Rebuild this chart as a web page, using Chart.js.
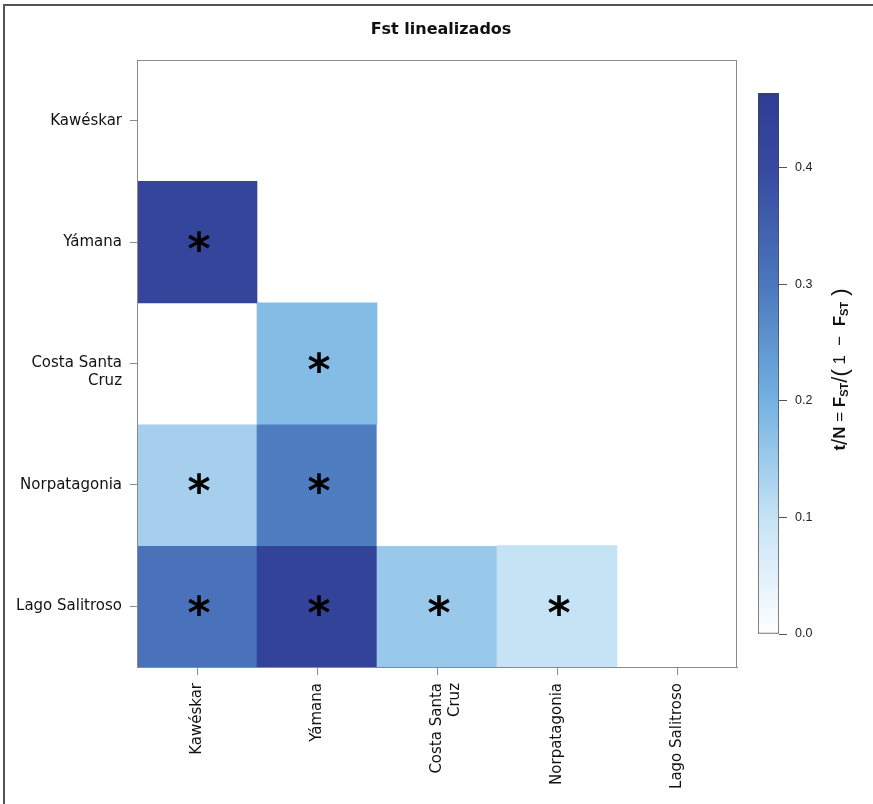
<!DOCTYPE html>
<html lang="es">

<head>
    <meta charset="UTF-8">
    <title>Fst linealizados</title>
    <style>
        body { margin: 0; background: #fff; }
        #wrap { position: relative; width: 873px; height: 804px; overflow: hidden; }
        #marco { position: absolute; left: 3px; top: 4px; width: 900px; height: 900px;
                 border-left: 2px solid #555; border-top: 2px solid #555; pointer-events: none; }
        #myChart { position: absolute; left: 0; top: 0; }
        #barra { position: absolute; left: 740px; top: 0; }
    </style>
</head>

<body>

    <div id="wrap">
        <div id="marco"></div>
        <canvas id="myChart" width="873" height="804"></canvas>
        <canvas id="barra" width="133" height="804"></canvas>
    </div>

    <script src="https://cdn.jsdelivr.net/npm/chart.js"></script>

    <script>
        const poblaciones = ["Kawéskar", "Yámana", "Costa Santa Cruz", "Norpatagonia", "Lago Salitroso"];

        // Fst linealizado por fila (triangulo inferior), null = sin celda
        const filaKaweskar = [null, null, null, null, null];
        const filaYamana = [0.42, null, null, null, null];
        const filaCostaSantaCruz = [0.0, 0.18, null, null, null];
        const filaNorpatagonia = [0.14, 0.29, 0.0, null, null];
        const filaLagoSalitroso = [0.31, 0.43, 0.155, 0.10, null];

        // significancia (*)
        const sigKaweskar = [0, 0, 0, 0, 0];
        const sigYamana = [1, 0, 0, 0, 0];
        const sigCostaSantaCruz = [0, 1, 0, 0, 0];
        const sigNorpatagonia = [1, 1, 0, 0, 0];
        const sigLagoSalitroso = [1, 1, 1, 1, 0];

        // escala de color
        const escalaValores = [0, 0.1, 0.2, 0.3, 0.4, 0.464];
        const escalaColores = ["#ffffff", "#c6e2f5", "#73b2e1", "#4b77bd", "#37499f", "#2e3d93"];
        const escalaTicks = [0, 0.1, 0.2, 0.3, 0.4];

        const valores = [filaKaweskar, filaYamana, filaCostaSantaCruz, filaNorpatagonia, filaLagoSalitroso];
        const significativos = [sigKaweskar, sigYamana, sigCostaSantaCruz, sigNorpatagonia, sigLagoSalitroso];
        const fuente = "'DejaVu Sans', sans-serif";
        const arial = "'Liberation Sans', Arial, sans-serif";

        function hexRgb(h) {
            return [parseInt(h.slice(1, 3), 16), parseInt(h.slice(3, 5), 16), parseInt(h.slice(5, 7), 16)];
        }

        function colorPara(v) {
            if (v == null) return "rgba(0,0,0,0)";
            for (let k = 1; k < escalaValores.length; k++) {
                if (v <= escalaValores[k] || k === escalaValores.length - 1) {
                    const t = Math.max(0, Math.min(1, (v - escalaValores[k - 1]) / (escalaValores[k] - escalaValores[k - 1])));
                    const a = hexRgb(escalaColores[k - 1]), b = hexRgb(escalaColores[k]);
                    const c = a.map((x, i) => Math.round(x + (b[i] - x) * t));
                    return "rgb(" + c.join(",") + ")";
                }
            }
        }

        function etiqueta(nombre) {
            return nombre === "Costa Santa Cruz" ? ["Costa Santa", "Cruz"] : nombre;
        }

        // en el eje y la primera linea va a la altura del tick
        function etiquetaY(nombre) {
            return nombre === "Costa Santa Cruz" ? ["", "Costa Santa", "Cruz"] : nombre;
        }

        const datasets = valores.map((fila, i) => ({
            data: fila.map(v => v == null ? null : [i - 0.5, i + 0.5]),
            backgroundColor: ctx => colorPara(valores[ctx.datasetIndex][ctx.dataIndex]),
            borderWidth: 0,
            barPercentage: 1,
            categoryPercentage: 1,
            grouped: false
        }));

        const titulo = {
            id: "titulo",
            afterDraw(chart) {
                const ctx = chart.ctx;
                ctx.save();
                ctx.fillStyle = "#111";
                ctx.font = "bold 16px " + fuente;
                ctx.textAlign = "center";
                ctx.textBaseline = "middle";
                ctx.fillText("Fst linealizados", 441, 30);
                ctx.restore();
            }
        };

        const asteriscos = {
            id: "asteriscos",
            afterDatasetsDraw(chart) {
                const ctx = chart.ctx;
                const xs = chart.scales.x, ys = chart.scales.y;
                ctx.save();
                ctx.fillStyle = "#000";
                ctx.font = "bold 44px " + fuente;
                ctx.textAlign = "center";
                ctx.textBaseline = "alphabetic";
                const m = ctx.measureText("*");
                const dy = (m.actualBoundingBoxAscent - m.actualBoundingBoxDescent) / 2;
                significativos.forEach((fila, i) => {
                    fila.forEach((s, j) => {
                        if (s) ctx.fillText("*", xs.getPixelForValue(j) + 2, ys.getPixelForValue(i) + dy - 1);
                    });
                });
                ctx.restore();
            }
        };

        const marcoPlot = {
            id: "marcoPlot",
            afterDraw(chart) {
                const a = chart.chartArea, ctx = chart.ctx;
                ctx.save();
                ctx.strokeStyle = "#8a8a8a";
                ctx.lineWidth = 1;
                ctx.strokeRect(a.left + 0.5, a.top + 0.5, a.right - a.left - 1, a.bottom - a.top);
                ctx.restore();
            }
        };

        new Chart(document.getElementById("myChart"), {
            type: "bar",
            data: { labels: poblaciones.map(etiqueta), datasets: datasets },
            options: {
                responsive: false,
                animation: false,
                devicePixelRatio: 1,
                layout: { padding: { left: 0, right: 136, top: 60, bottom: 0 } },
                plugins: {
                    legend: { display: false },
                    tooltip: { enabled: false },
                    title: { display: false }
                },
                scales: {
                    x: {
                        type: "category",
                        offset: true,
                        grid: { display: true, offset: false, drawOnChartArea: false, tickLength: 8, color: "#8a8a8a" },
                        border: { display: true, color: "#8a8a8a" },
                        ticks: {
                            minRotation: 90, maxRotation: 90, padding: 8,
                            color: "#111", font: { family: fuente, size: 15 }
                        },
                        afterFit(s) { s.height = 137; }
                    },
                    y: {
                        type: "linear",
                        min: -0.5,
                        max: 4.5,
                        reverse: true,
                        grid: { display: true, drawOnChartArea: false, tickLength: 7, color: "#8a8a8a" },
                        border: { display: true, color: "#8a8a8a" },
                        ticks: {
                            padding: 8,
                            color: "#111",
                            font: { family: fuente, size: 15 },
                            callback: v => etiquetaY(poblaciones[v])
                        },
                        afterBuildTicks(s) { s.ticks = poblaciones.map((_, i) => ({ value: i })); },
                        afterFit(s) { s.width = 137; }
                    }
                }
            },
            plugins: [asteriscos, marcoPlot, titulo]
        });

        // barra de color
        const cbMax = escalaValores[escalaValores.length - 1];

        const tituloBarra = {
            id: "tituloBarra",
            afterDraw(chart) {
                const ctx = chart.ctx;
                const a = chart.chartArea;
                const partes = [
                    { t: "t", b: true }, { t: "/", big: true }, { t: "N", b: true }, { t: " = ", s: 16 },
                    { t: "F", b: true }, { t: "ST", b: true, sub: true }, { t: "/", big: true },
                    { t: "(", big: true }, { t: " 1  \u2212  ", s: 16 }, { t: "F", b: true },
                    { t: "ST", b: true, sub: true }, { t: " )", big: true }
                ];
                const f = p => (p.b ? "bold " : "") + (p.sub ? 11 : p.big ? 22 : 17) + "px " + arial;
                ctx.save();
                let total = 0;
                partes.forEach(p => { ctx.font = f(p); total += ctx.measureText(p.t).width; });
                ctx.translate(99, (a.top + a.bottom) / 2 + 6);
                ctx.rotate(-Math.PI / 2);
                ctx.fillStyle = "#111";
                ctx.textBaseline = "alphabetic";
                let x = -total / 2;
                partes.forEach(p => {
                    ctx.font = f(p);
                    ctx.fillText(p.t, x, p.sub ? 9 : p.big ? 8 : 6);
                    x += ctx.measureText(p.t).width;
                });
                ctx.restore();
            }
        };

        new Chart(document.getElementById("barra"), {
            type: "bar",
            data: {
                labels: [""],
                datasets: [{
                    data: [[0, cbMax]],
                    backgroundColor: ctx => {
                        const ch = ctx.chart, a = ch.chartArea;
                        if (!a) return escalaColores[0];
                        const ys = ch.scales.y;
                        const g = ch.ctx.createLinearGradient(0, ys.getPixelForValue(0), 0, ys.getPixelForValue(cbMax));
                        escalaValores.forEach((v, k) => g.addColorStop(v / cbMax, escalaColores[k]));
                        return g;
                    },
                    borderColor: "#444",
                    borderWidth: 1,
                    borderSkipped: false,
                    barPercentage: 1,
                    categoryPercentage: 1
                }]
            },
            options: {
                responsive: false,
                animation: false,
                devicePixelRatio: 1,
                layout: { padding: { left: 18, right: 0, top: 93, bottom: 170 } },
                plugins: { legend: { display: false }, tooltip: { enabled: false }, title: { display: false } },
                scales: {
                    x: { display: false, offset: true },
                    y: {
                        position: "right",
                        min: 0,
                        max: cbMax,
                        grid: { display: true, drawOnChartArea: false, tickLength: 8, color: "#555" },
                        border: { display: false },
                        ticks: {
                            padding: 8,
                            color: "#222",
                            font: { family: arial, size: 12.5 },
                            callback: v => v.toFixed(1)
                        },
                        afterBuildTicks(s) { s.ticks = escalaTicks.map(v => ({ value: v })); },
                        afterFit(s) { s.width = 94; }
                    }
                }
            },
            plugins: [tituloBarra]
        });
    </script>
</body>

</html>
